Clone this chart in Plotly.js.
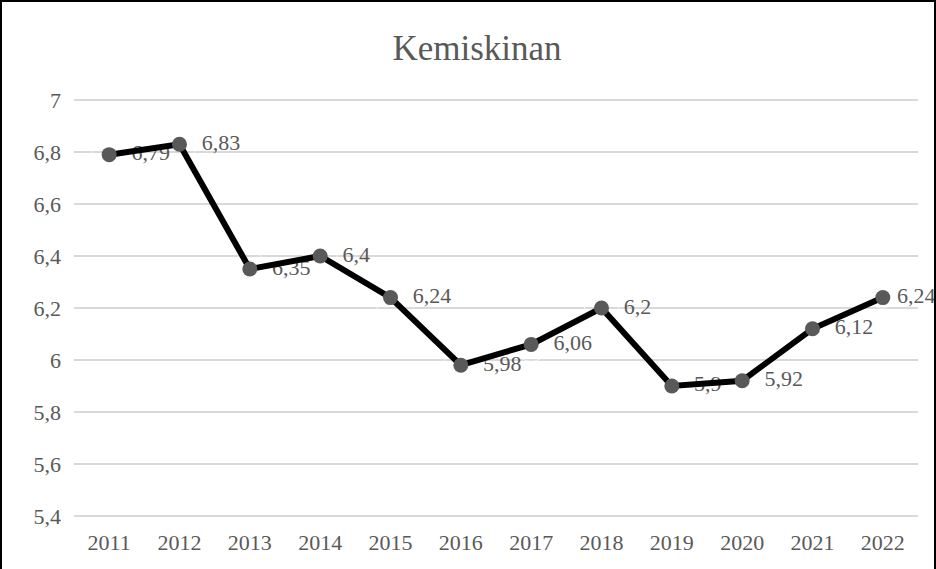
<!DOCTYPE html>
<html>
<head>
<meta charset="utf-8">
<script src="https://cdn.plot.ly/plotly-3.0.1.min.js"></script>
<style>
html,body{margin:0;padding:0;background:#fff;}
#chart{width:936px;height:569px;box-sizing:border-box;border-top:2px solid #000;border-left:2px solid #000;border-right:2px solid #000;}
</style>
</head>
<body>
<div id="chart"></div>
<script>
const years = ['2011','2012','2013','2014','2015','2016','2017','2018','2019','2020','2021','2022'];
const poverty = [6.79, 6.83, 6.35, 6.4, 6.24, 5.98, 6.06, 6.2, 5.9, 5.92, 6.12, 6.24];
const yTicks = [5.4, 5.6, 5.8, 6, 6.2, 6.4, 6.6, 6.8, 7];
const labels = poverty.map(v => String(v).replace('.', ','));

const FONT = 'Liberation Serif, Times New Roman, serif';
const GREY = '#595959';

// spacer marker sizes control the label gap (last label is pulled in to fit the chart edge)
const labelGap = years.map((y, i) => i === years.length - 1 ? 21 : 34);

const textTrace = {
  x: years, y: poverty, type: 'scatter', mode: 'markers+text',
  text: labels, textposition: 'middle right',
  textfont: {family: FONT, size: 22, color: GREY},
  marker: {size: labelGap, color: 'rgba(0,0,0,0)'},
  hoverinfo: 'skip', showlegend: false, cliponaxis: false
};
const lineTrace = {
  x: years, y: poverty, type: 'scatter', mode: 'lines+markers',
  line: {color: '#000000', width: 6},
  marker: {size: 15, color: GREY},
  showlegend: false
};

const layout = {
  width: 932, height: 567,
  margin: {l: 72, r: 16, t: 96, b: 51},
  paper_bgcolor: '#ffffff', plot_bgcolor: '#ffffff',
  separators: ', ',
  font: {family: FONT, size: 22, color: GREY},
  title: {text: 'Kemiskinan', font: {family: FONT, size: 35, color: GREY},
          x: 475/932, xref: 'container', xanchor: 'center',
          y: 1 - 46/567, yref: 'container', yanchor: 'middle'},
  xaxis: {type: 'category', range: [-0.5, 11.5], autorange: false, showgrid: false, zeroline: false, showline: false,
          ticks: '', tickfont: {family: FONT, size: 22, color: GREY}, ticklabelstandoff: 9},
  yaxis: {range: [5.392, 7.008], autorange: false, tickvals: yTicks, showgrid: true, gridcolor: '#d9d9d9', gridwidth: 2,
          zeroline: false, showline: false, ticks: '',
          tickfont: {family: FONT, size: 22, color: GREY}, ticklabelstandoff: 12}
};

Plotly.newPlot('chart', [textTrace, lineTrace], layout, {displayModeBar: false, staticPlot: true});
</script>
</body>
</html>
